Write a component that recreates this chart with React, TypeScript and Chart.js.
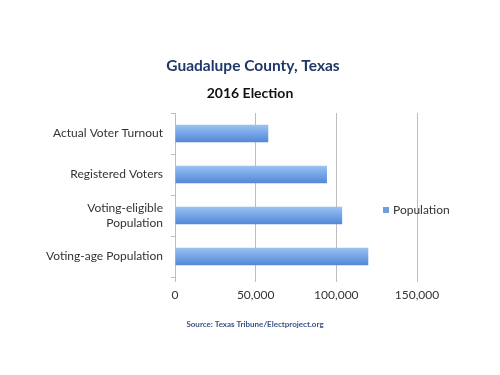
import React, { useEffect, useRef } from "react";
import { Chart, registerables } from "chart.js";

Chart.register(...registerables);

const categories: (string | string[])[] = [
  "Actual Voter Turnout",
  "Registered Voters",
  ["Voting-eligible", "Population"],
  "Voting-age Population",
];
const populationValues = [57800, 94200, 103600, 119800];
const xTicks = [0, 50000, 100000, 150000];
const seriesName = "Population";
const titleText = "Guadalupe County, Texas";
const subtitleText = "2016 Election";
const sourceText = "Source: Texas Tribune/Electproject.org";

const FONT = "Lato, 'Open Sans', sans-serif";
const BAR_PCT = 0.6;
const CAT_PCT = 0.72;

const textPlugin = {
  id: "textPlugin",
  afterDraw(chart: any) {
    const ctx = chart.ctx;
    ctx.save();
    ctx.textAlign = "center";
    ctx.textBaseline = "middle";
    ctx.fillStyle = "#1F3868";
    ctx.font = `bold 15.5px ${FONT}`;
    ctx.fillText(titleText, 253, 66);
    ctx.fillStyle = "#111111";
    ctx.font = `bold 14px ${FONT}`;
    ctx.fillText(subtitleText, 250, 93);
    ctx.fillStyle = "#3B5286";
    ctx.font = `bold 8px ${FONT}`;
    ctx.fillText(sourceText, 255, 324);
    // legend
    ctx.fillStyle = "#6F9FE0";
    ctx.fillRect(383, 207, 6, 6);
    ctx.fillStyle = "#333333";
    ctx.font = `12px ${FONT}`;
    ctx.textAlign = "left";
    ctx.fillText(seriesName, 393, 210);
    ctx.restore();
  },
};

function barGradient(context: any) {
  const chart = context.chart;
  const yScale = chart.scales?.y;
  if (!yScale || !chart.chartArea) return "#6F9FE0";
  const center = yScale.getPixelForValue(context.dataIndex);
  const cat = (yScale.bottom - yScale.top) / categories.length;
  const half = (cat * BAR_PCT * CAT_PCT) / 2;
  const g = chart.ctx.createLinearGradient(0, center - half, 0, center + half);
  g.addColorStop(0, "#9CC3F2");
  g.addColorStop(0.45, "#78A8E8");
  g.addColorStop(1, "#5387D6");
  return g;
}

export default function App() {
  const ref = useRef<HTMLCanvasElement | null>(null);
  useEffect(() => {
    document.body.style.margin = "0";
    const chart = new Chart(ref.current as HTMLCanvasElement, {
      type: "bar",
      data: {
        labels: categories as any,
        datasets: [
          {
            label: seriesName,
            data: populationValues,
            backgroundColor: barGradient as any,
            borderWidth: 0,
            barPercentage: BAR_PCT,
            categoryPercentage: CAT_PCT,
          },
        ],
      },
      options: {
        indexAxis: "y",
        animation: false,
        responsive: false,
        maintainAspectRatio: false,
        layout: { padding: { top: 113, left: 10, right: 83, bottom: 68 } },
        plugins: {
          legend: { display: false },
          title: { display: false },
          tooltip: { enabled: false },
        },
        scales: {
          x: {
            min: 0,
            max: 150000,
            afterBuildTicks: (s: any) => {
              s.ticks = xTicks.map((v) => ({ value: v }));
            },
            afterFit: (s: any) => {
              s.height = 30;
            },
            border: { display: false },
            grid: {
              color: "#BDBDBD",
              lineWidth: 1,
              drawTicks: true,
              tickLength: 5,
              tickColor: "#BDBDBD",
            },
            ticks: {
              color: "#333333",
              font: { family: FONT, size: 12 },
              padding: 6,
              callback: (v: any) => Number(v).toLocaleString("en-US"),
            },
          },
          y: {
            afterFit: (s: any) => {
              s.width = 165;
            },
            border: { display: true, color: "#BDBDBD" },
            grid: {
              drawOnChartArea: false,
              drawTicks: true,
              tickLength: 4,
              offset: true,
              color: "#BDBDBD",
            },
            ticks: {
              color: "#333333",
              font: { family: FONT, size: 12 },
              padding: 8,
            },
          },
        },
      },
      plugins: [textPlugin],
    });
    return () => chart.destroy();
  }, []);
  return (
    <div style={{ position: "absolute", left: 0, top: 0, width: 500, height: 375, background: "#fff" }}>
      <canvas ref={ref} width={500} height={375} style={{ width: 500, height: 375 }} />
    </div>
  );
}
